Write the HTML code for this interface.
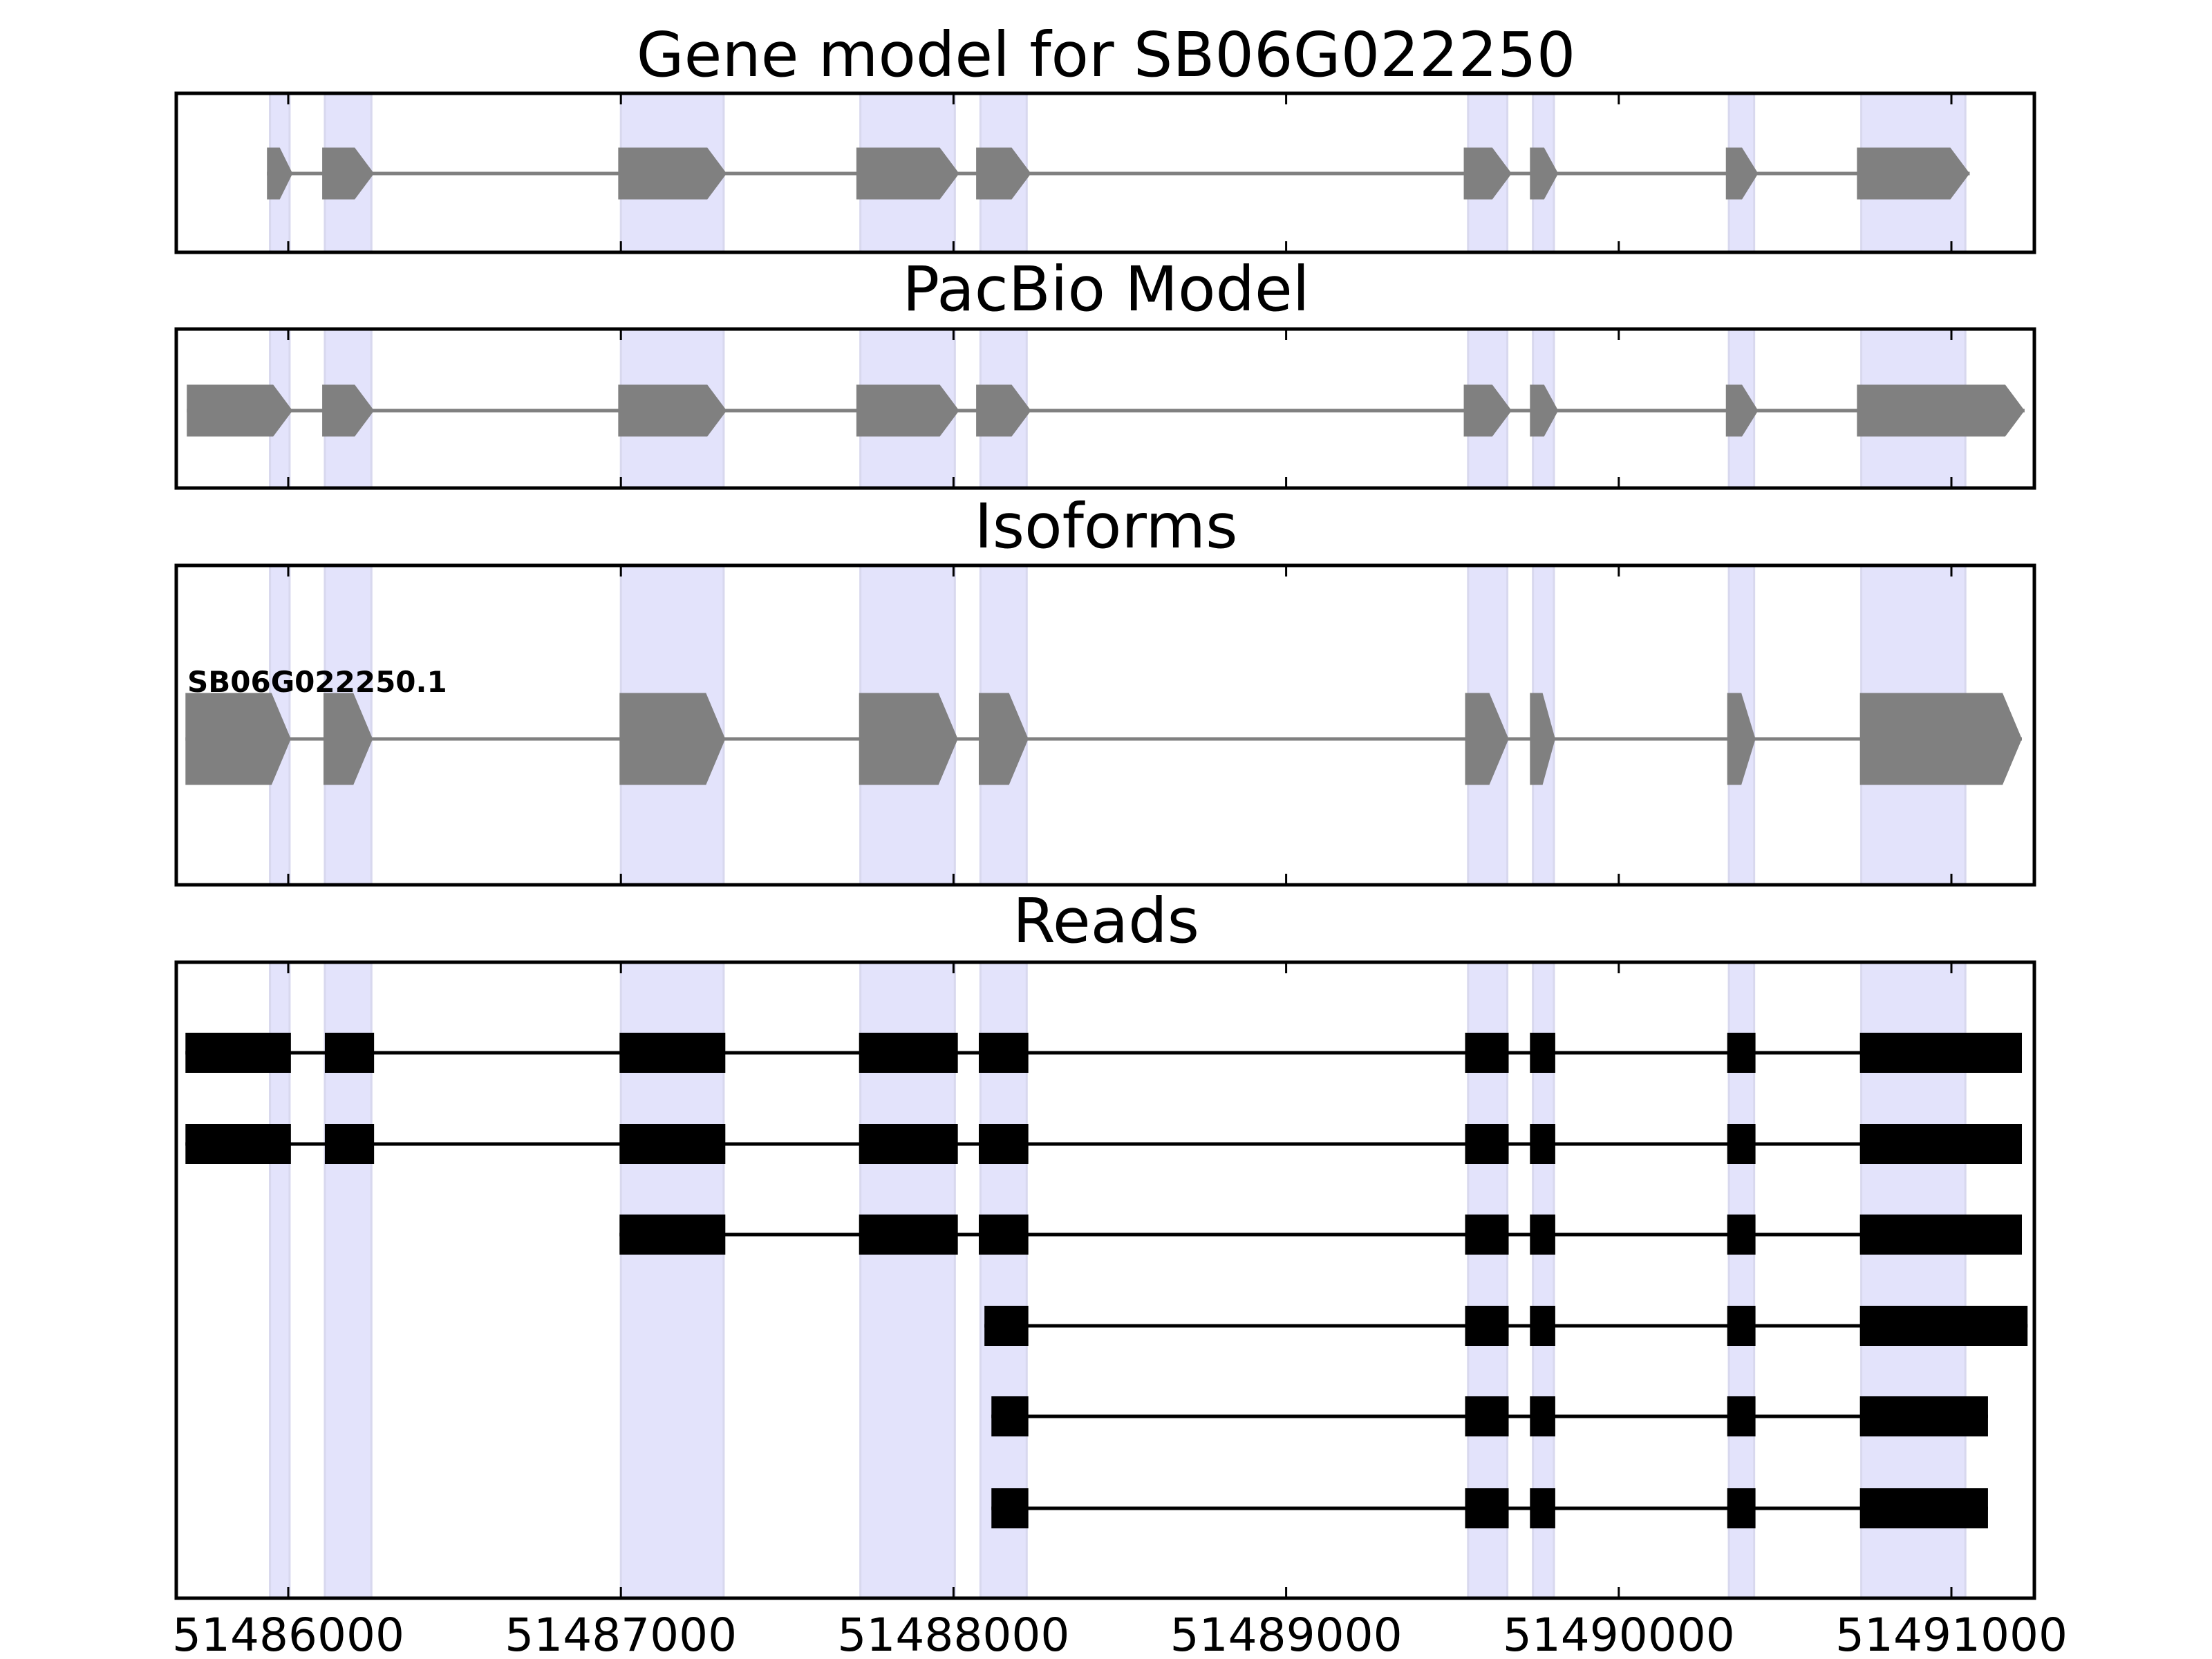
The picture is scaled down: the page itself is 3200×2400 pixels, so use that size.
<!DOCTYPE html>
<html><head><meta charset="utf-8"><style>
html,body{margin:0;padding:0;background:#fff;}
svg{display:block;font-family:"DejaVu Sans","Liberation Sans",sans-serif;}
</style></head><body>
<svg id="chart" width="3200" height="2400" viewBox="0 0 3200 2400" xmlns="http://www.w3.org/2000/svg"></svg>
<script>
// ---- data ----
const xTicks = [51486000, 51487000, 51488000, 51489000, 51490000, 51491000];
const tickLabels = ["51486000","51487000","51488000","51489000","51490000","51491000"];
const highlightBands = [[51485945,51486004],[51486110,51486250],[51487000,51487309],[51487720,51488004],[51488081,51488220],[51489547,51489665],[51489742,51489805],[51490331,51490407],[51490729,51491042]];
const geneModelExons = [[51485936,51486013],[51486102,51486258],[51486992,51487318],[51487708,51488017],[51488068,51488233],[51489534,51489678],[51489733,51489818],[51490322,51490419],[51490716,51491055]];
const pacbioExons = [[51485695,51486013],[51486102,51486258],[51486992,51487318],[51487708,51488017],[51488068,51488233],[51489534,51489678],[51489733,51489818],[51490322,51490419],[51490716,51491220]];
const isoformExons = [[51485691,51486008],[51486106,51486254],[51486996,51487314],[51487716,51488013],[51488076,51488225],[51489538,51489669],[51489733,51489809],[51490326,51490411],[51490725,51491212]];
const isoformName = "SB06G022250.1";
const read1 = [[51485691,51486008],[51486110,51486258],[51486996,51487314],[51487716,51488013],[51488076,51488225],[51489538,51489669],[51489733,51489809],[51490326,51490411],[51490725,51491212]];
const read2 = [[51485691,51486008],[51486110,51486258],[51486996,51487314],[51487716,51488013],[51488076,51488225],[51489538,51489669],[51489733,51489809],[51490326,51490411],[51490725,51491212]];
const read3 = [[51486996,51487314],[51487716,51488013],[51488076,51488225],[51489538,51489669],[51489733,51489809],[51490326,51490411],[51490725,51491212]];
const read4 = [[51488093,51488225],[51489538,51489669],[51489733,51489809],[51490326,51490411],[51490725,51491229]];
const read5 = [[51488114,51488225],[51489538,51489669],[51489733,51489809],[51490326,51490411],[51490725,51491110]];
const read6 = [[51488114,51488225],[51489538,51489669],[51489733,51489809],[51490326,51490411],[51490725,51491110]];
const reads = [read1, read2, read3, read4, read5, read6];

// ---- layout ----
const NS = "http://www.w3.org/2000/svg";
const svg = document.getElementById("chart");
const L = 255, R = 2943;
const x = v => 417 + (v - 51486000) * 0.4812;
function el(tag, attrs, parent) {
  const e = document.createElementNS(NS, tag);
  for (const k in attrs) e.setAttribute(k, attrs[k]);
  (parent || svg).appendChild(e);
  return e;
}
const panels = [
  {name:"gene-model", title:"Gene model for SB06G022250", top:135, bot:365, tb:110},
  {name:"pacbio-model", title:"PacBio Model", top:476, bot:706, tb:449},
  {name:"isoforms", title:"Isoforms", top:818, bot:1280, tb:792},
  {name:"reads", title:"Reads", top:1392, bot:2312, tb:1363}
];

function arrowExons(g, exons, cy, h, nm) {
  el("line", {x1:x(exons[0][0]), x2:x(exons[exons.length-1][1]), y1:cy, y2:cy, stroke:"#808080", "stroke-width":5}, g);
  exons.forEach((ex, i) => {
    const a = x(ex[0]), b = x(ex[1]), w = b - a;
    const p = Math.min(28, w * 0.5);
    const poly = el("polygon", {points:`${a},${cy-h/2} ${b-p},${cy-h/2} ${b},${cy} ${b-p},${cy+h/2} ${a},${cy+h/2}`, fill:"#808080"}, g);
    
    
  });
}

panels.forEach((p, pi) => {
  const g = el("g", {});
  
  
  const t = el("text", {x:1600, y:p.tb, "text-anchor":"middle", "font-size":89, fill:"#000"}, g);
  t.textContent = p.title;
  
  
  highlightBands.forEach((bd, i) => {
    const r = el("rect", {x:x(bd[0]), y:p.top, width:x(bd[1]) - x(bd[0]), height:p.bot - p.top, fill:"#e3e3fb", stroke:"#d8d8ee", "stroke-width":3}, g);
    
    
  });
  if (pi === 0) arrowExons(g, geneModelExons, 251, 75, "gene-model");
  if (pi === 1) arrowExons(g, pacbioExons, 594, 75, "pacbio");
  if (pi === 2) {
    arrowExons(g, isoformExons, 1069, 133, "isoform");
    const lb = el("text", {x:271, y:1001, "font-size":42, "font-weight":"bold", fill:"#000"}, g);
    lb.textContent = isoformName;
    
    
  }
  if (pi === 3) {
    const rowY = [1523, 1655, 1786, 1918, 2049, 2182];
    reads.forEach((rd, ri) => {
      const cy = rowY[ri];
      const rg = el("g", {}, g);
      
      
      el("line", {x1:x(rd[0][0]), x2:x(rd[rd.length-1][1]), y1:cy, y2:cy, stroke:"#000", "stroke-width":5}, rg);
      rd.forEach(ex => {
        const r = el("rect", {x:x(ex[0]), y:cy - 29, width:x(ex[1]) - x(ex[0]), height:58, fill:"#000"}, rg);
        
        
      });
    });
  }
  xTicks.forEach(v => {
    el("line", {x1:x(v), x2:x(v), y1:p.top, y2:p.top + 16, stroke:"#000", "stroke-width":3}, g);
    el("line", {x1:x(v), x2:x(v), y1:p.bot, y2:p.bot - 16, stroke:"#000", "stroke-width":3}, g);
  });
  const fr = el("rect", {x:L, y:p.top, width:R - L, height:p.bot - p.top, fill:"none", stroke:"#000", "stroke-width":5}, g);
  
  
});

xTicks.forEach((v, i) => {
  const t = el("text", {x:x(v), y:2388, "text-anchor":"middle", "font-size":66, fill:"#000"});
  t.textContent = tickLabels[i];
  
  
});
</script>
</body></html>
